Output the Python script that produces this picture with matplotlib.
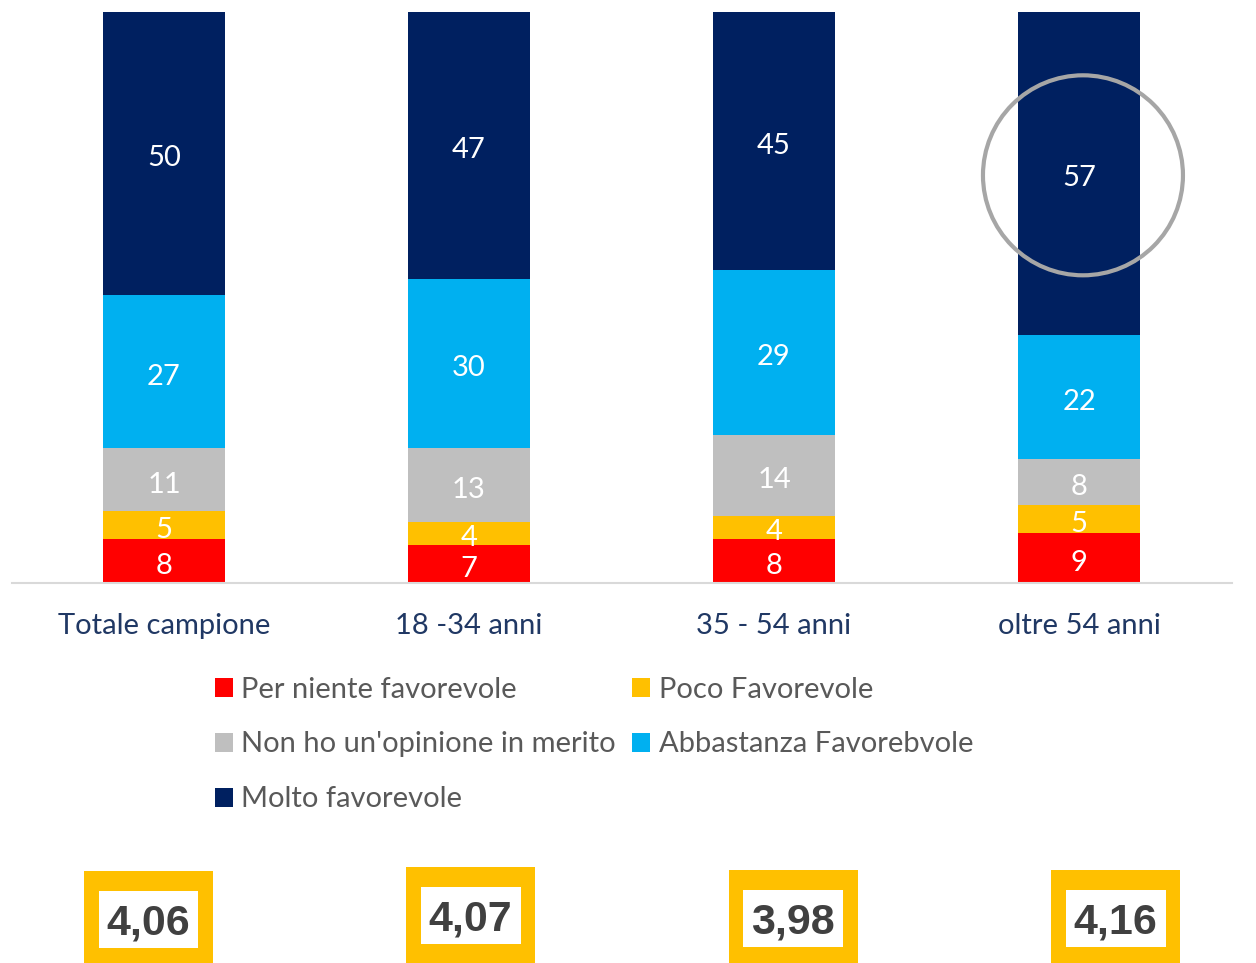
import matplotlib
matplotlib.use("Agg")
import matplotlib.pyplot as plt
from matplotlib.patches import Ellipse, Rectangle
import numpy as np

categories = ["Totale campione", "18 -34 anni", "35 - 54 anni", "oltre 54 anni"]
series_names = ["Per niente favorevole", "Poco Favorevole", "Non ho un'opinione in merito",
                "Abbastanza Favorebvole", "Molto favorevole"]
per_niente = [7.7, 6.6, 7.7, 8.7]
poco = [4.9, 4.1, 4.1, 5.0]
non_ho = [11.0, 12.9, 14.1, 8.0]
abbastanza = [26.8, 29.7, 28.9, 21.7]
molto = [49.6, 46.7, 45.2, 56.6]
scores = [4.06, 4.07, 3.98, 4.16]

colors = ["#FF0000", "#FFC000", "#BFBFBF", "#00B0F0", "#002060"]
series = [per_niente, poco, non_ho, abbastanza, molto]

W, H = 1256, 963
fig = plt.figure(figsize=(W / 100, H / 100), dpi=100)
font = "Lato"


def fx(px):
    return px / W


def fy(py):
    return 1 - py / H


ax = fig.add_axes([fx(11.5), fy(583), (1231.5 - 11.5) / W, 571 / H])
x = np.arange(len(categories))
bottom = np.zeros(len(categories))
handles = []
for vals, c, name in zip(series, colors, series_names):
    vals = np.array(vals)
    bars = ax.bar(x, vals, 0.4, bottom=bottom, color=c, label=name, zorder=2)
    for xi, b, v in zip(x, bottom, vals):
        ax.annotate(f"{v:.0f}", (xi, b + v / 2), xytext=(0, -3.5),
                    textcoords="offset points", ha="center", va="center",
                    color="white", fontsize=21, family=font, zorder=4)
    handles.append(bars)
    bottom += vals

ax.set_xlim(-0.5, 3.5)
ax.set_ylim(0, 100)
ax.set_yticks([])
ax.set_xticks(x)
ax.set_xticklabels(categories, fontsize=21, family=font, color="#203864")
ax.tick_params(axis="x", length=0, pad=21.5)
for s in ["left", "right", "top"]:
    ax.spines[s].set_visible(False)
ax.spines["bottom"].set_color("#D9D9D9")
ax.spines["bottom"].set_linewidth(1.5)
ax.spines["bottom"].set_zorder(3)

# highlight circle around the last bar's top value
ax.add_patch(Ellipse((3.013, 71.4), 200 / 305, 200 / 5.71, fill=False,
                     edgecolor="#A6A6A6", linewidth=3, clip_on=False, zorder=5))

# legend (row-wise order like the reference)
order = [0, 2, 4, 1, 3]
leg = fig.legend([handles[i] for i in order], [series_names[i] for i in order],
                 ncol=2, loc="upper left", bbox_to_anchor=(fx(200), fy(662)),
                 frameon=False, prop={"family": font, "size": 21},
                 handlelength=0.62, handleheight=0.62, handletextpad=0.28,
                 columnspacing=0.58, labelspacing=0.99, borderpad=0)
for t in leg.get_texts():
    t.set_color("#595959")

# score boxes
box_centers = [148.5, 470.5, 793, 1115.5]
box_tops = [871, 867, 870, 870]
for cx, top, sc in zip(box_centers, box_tops, scores):
    ow, oh = 129, 96
    fig.add_artist(Rectangle((fx(cx - ow / 2), fy(top + oh)), ow / W, oh / H,
                             transform=fig.transFigure, facecolor="#FFC000",
                             edgecolor="none"))
    iw, ih = 100, 57
    icy = top + 20 + ih / 2
    fig.add_artist(Rectangle((fx(cx - iw / 2), fy(icy + ih / 2)), iw / W, ih / H,
                             transform=fig.transFigure, facecolor="white",
                             edgecolor="none"))
    fig.text(fx(cx), fy(icy + 3.5), f"{sc:.2f}".replace(".", ","), ha="center",
             va="center", fontsize=31, fontweight="bold", family="Liberation Sans",
             color="#404040")

fig.savefig("out.png", dpi=100)
